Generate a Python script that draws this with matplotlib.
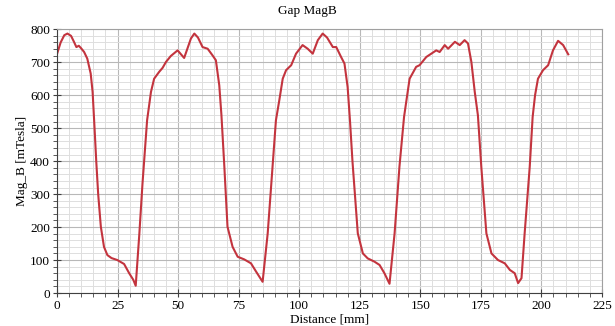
import matplotlib
matplotlib.use("Agg")
import matplotlib.pyplot as plt
from matplotlib.ticker import MultipleLocator

distance_mm = [0, 1.5, 3, 4.3, 5.8, 7, 8, 9, 10, 11.2, 12.5, 13.9, 14.7, 15.5, 16.2, 17, 18.1, 19.4, 20.8,
               22.5, 24.9, 27.7, 29.8, 31.5, 32.5, 34, 35.3, 37.2, 38.8, 40.1, 42.2, 43.6, 45, 47,
               49.8, 52.5, 55.3, 56.7, 58.2, 60.1, 62.2, 64.2, 65.6, 67, 67.9, 69.1, 70.4, 72.5,
               74.6, 77.3, 80.1, 82.2, 84.9, 87, 89, 90.4, 91.8, 93.2, 94.6, 96.7, 98.7, 101.4,
               103.5, 105.6, 107.7, 109.7, 111.5, 113.9, 115.3, 117.3, 118.7, 120, 121, 122,
               124.2, 126.3, 128.3, 131.1, 133.2, 135.2, 137.3, 139.4, 141.4, 143.3, 144.6, 145.6,
               148.3, 149.7, 152.5, 156.6, 158, 160.1, 161.5, 164.3, 166.3, 168.3, 169.7, 171.1,
               172.5, 173.8, 175.2, 177.3, 179.4, 182.1, 184.9, 187, 189, 190.4, 191.8, 193.1,
               195.2, 196.4, 197.4, 198.6, 200.7, 202.8, 204.8, 206.9, 209, 211.1]
mag_b_mT = [725, 760, 782, 787, 780, 762, 746, 750, 742, 731, 711, 666, 610, 500, 400, 300, 201, 140, 115,
            106, 100, 88, 60, 40, 22, 180, 332, 524, 610, 650, 671, 683, 701, 719,
            736, 713, 772, 787, 775, 746, 741, 721, 706, 630, 539, 383, 201, 140,
            110, 102, 90, 65, 34, 181, 383, 524, 585, 650, 676, 691, 726, 752,
            741, 726, 767, 787, 775, 746, 746, 716, 696, 625, 520, 400,
            181, 120, 105, 95, 85, 60, 28, 181, 383, 534, 600, 650,
            686, 691, 716, 736, 731, 752, 741, 762, 752, 767, 757, 701,
            610, 539, 383, 181, 120, 100, 90, 70, 60, 30, 45, 181,
            383, 534, 600, 650, 676, 691, 736, 765, 752, 724]

x_ticks = [0, 25, 50, 75, 100, 125, 150, 175, 200, 225]
y_ticks = [0, 100, 200, 300, 400, 500, 600, 700, 800]

plt.rcParams['font.family'] = ['Liberation Serif', 'DejaVu Serif']

fig = plt.figure(figsize=(6.15, 3.26), dpi=100)
ax = fig.add_axes([0.0927, 0.1012, 0.886, 0.809])

ax.plot(distance_mm, mag_b_mT, color='#c3343e', lw=1.5, solid_joinstyle='round')

ax.set_xlim(0, 225)
ax.set_ylim(0, 800)
ax.set_xticks(x_ticks)
ax.set_yticks(y_ticks)
ax.xaxis.set_minor_locator(MultipleLocator(5))
ax.yaxis.set_minor_locator(MultipleLocator(20))
ax.grid(which='major', color='#b8b8b8', lw=0.8)
ax.grid(which='minor', color='#dedede', lw=0.7)
ax.set_axisbelow(True)

ax.tick_params(which='major', direction='inout', length=6, width=0.8, color='#404040',
               labelsize=9.5, pad=2)
ax.tick_params(which='minor', direction='out', length=3, width=0.6, color='#404040')

for side in ['top', 'right']:
    ax.spines[side].set_color('#a0a0a0')
for side in ['left', 'bottom']:
    ax.spines[side].set_color('#404040')

ax.set_xlabel('Distance [mm]', fontsize=9.5, labelpad=1)
ax.set_ylabel('Mag_B [mTesla]', fontsize=9.5, labelpad=1.5)
fig.text(0.5, 0.965, 'Gap MagB', ha='center', va='center', fontsize=9.5)

fig.savefig('out.png', dpi=100)
